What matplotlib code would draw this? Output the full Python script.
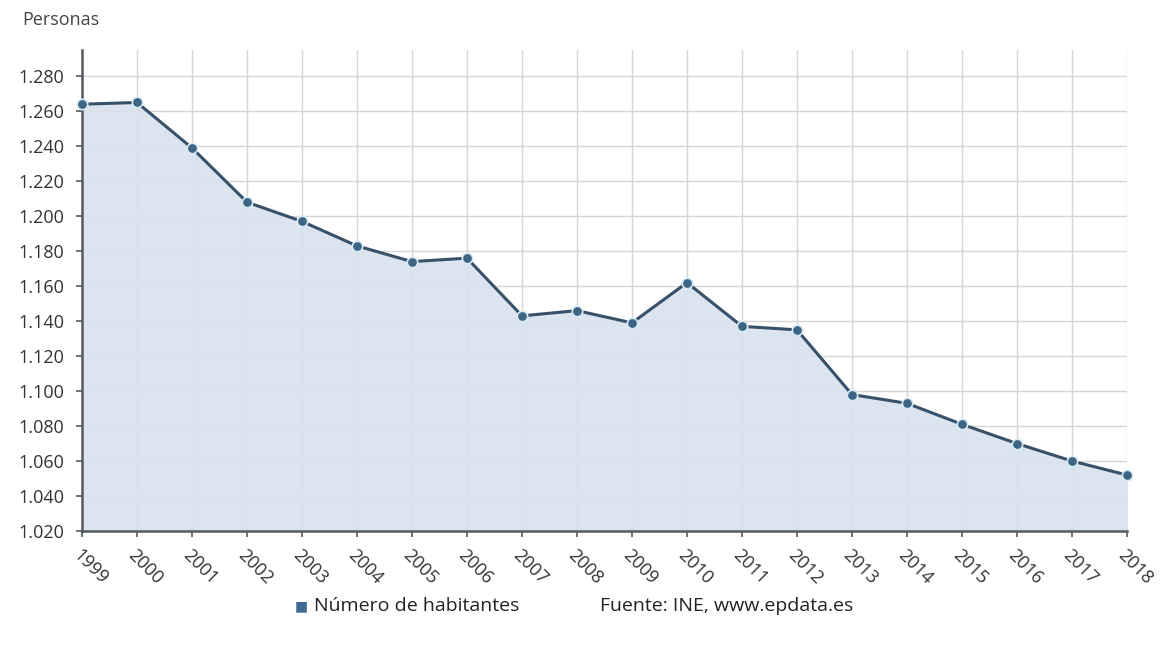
import matplotlib
matplotlib.use("Agg")
import matplotlib.pyplot as plt
from matplotlib.ticker import FuncFormatter

years = [1999, 2000, 2001, 2002, 2003, 2004, 2005, 2006, 2007, 2008,
         2009, 2010, 2011, 2012, 2013, 2014, 2015, 2016, 2017, 2018]
habitantes = [1264, 1265, 1239, 1208, 1197, 1183, 1174, 1176, 1143, 1146,
              1139, 1162, 1137, 1135, 1098, 1093, 1081, 1070, 1060, 1052]
year_labels = [str(y) for y in years]

plt.rcParams['font.family'] = ['Open Sans', 'DejaVu Sans']

fig = plt.figure(figsize=(11.66, 6.45), dpi=100)
ax = fig.add_axes([82 / 1166, 1 - 531 / 645, (1127 - 82) / 1166, (531 - 50) / 645])

line_col = '#37516a'
ax.fill_between(years, habitantes, 1020, color='#d9e3ee', alpha=0.9, zorder=1)
ax.plot(years, habitantes, color=line_col, lw=2.2, zorder=3, clip_on=False)
ax.plot(years, habitantes, ls='none', marker='o', ms=7.5, mfc='#3f6585',
        mec='#d8ecf8', mew=1.2, zorder=4, clip_on=False)

ax.set_xlim(1999, 2018)
ax.set_ylim(1020, 1295)
ax.set_yticks(range(1020, 1281, 20))
ax.yaxis.set_major_formatter(FuncFormatter(lambda v, p: f"{v/1000:.3f}"))
ax.set_xticks(years)
ax.set_xticklabels(year_labels, rotation=-45, ha='left', va='top',
                   rotation_mode='anchor')

ax.grid(True, color='#d6d6d6', lw=1.0, zorder=0)
ax.set_axisbelow(True)
for s in ['top', 'right']:
    ax.spines[s].set_visible(False)
for s in ['left', 'bottom']:
    ax.spines[s].set_color('#555a60')
    ax.spines[s].set_linewidth(1.8)
ax.tick_params(axis='both', colors='#555a60', length=4, width=1.2,
               labelcolor='#333333', labelsize=13)
ax.tick_params(axis='x', pad=7)
ax.tick_params(axis='y', pad=9)

fig.text(22 / 1166, 1 - 20 / 645, 'Personas', fontsize=13, color='#444444',
         va='center', ha='left')

fig.text(295 / 1166, 1 - 606 / 645, '\u25A0', fontsize=10, color='#3f6b95',
         va='center', ha='left', family='DejaVu Sans')
fig.text(314 / 1166, 1 - 606 / 645, 'Número de habitantes', fontsize=14,
         color='#222222', va='center', ha='left')
fig.text(600 / 1166, 1 - 606 / 645, 'Fuente: INE, www.epdata.es', fontsize=14,
         color='#222222', va='center', ha='left')

fig.savefig('out.png', dpi=100, facecolor='white')
